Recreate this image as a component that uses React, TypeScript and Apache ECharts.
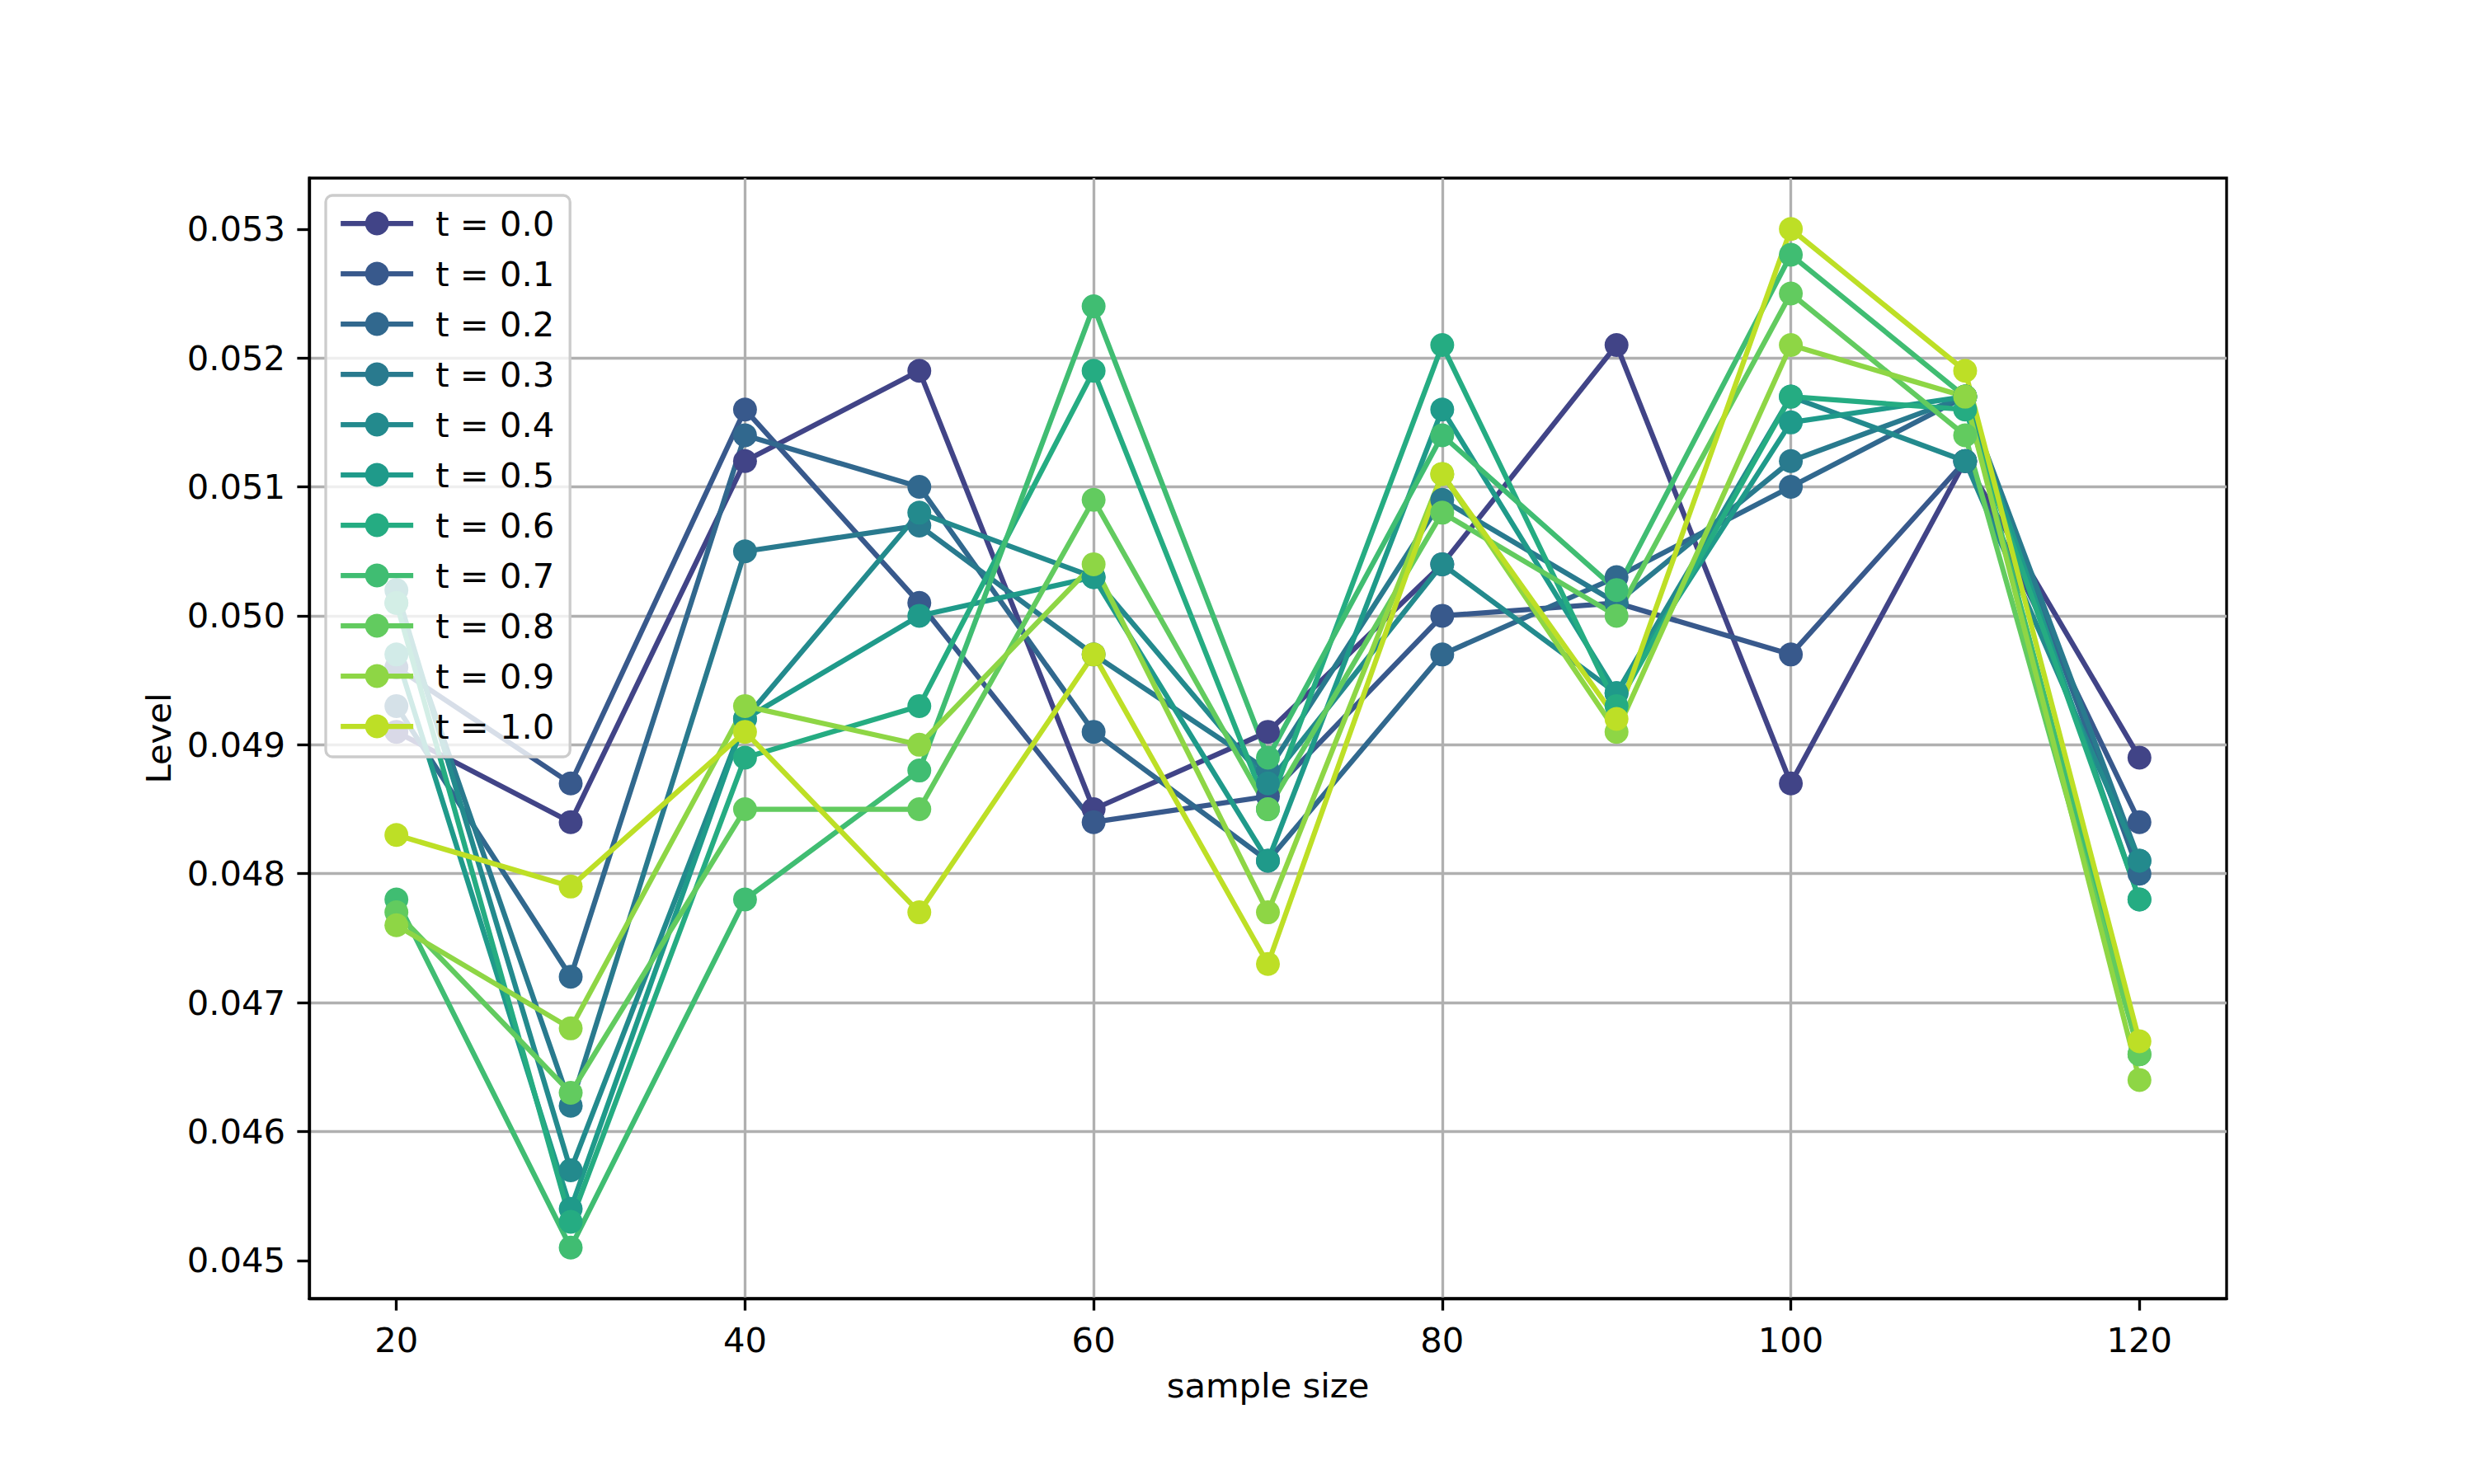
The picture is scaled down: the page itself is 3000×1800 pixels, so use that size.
import React, { useEffect, useRef } from "react";
import * as echarts from "echarts";

const sampleSizes = [20, 30, 40, 50, 60, 70, 80, 90, 100, 110, 120];
const seriesNames = ["t = 0.0", "t = 0.1", "t = 0.2", "t = 0.3", "t = 0.4", "t = 0.5", "t = 0.6", "t = 0.7", "t = 0.8", "t = 0.9", "t = 1.0"];
const seriesColors = ["#414487", "#38598c", "#31688e", "#297a8e", "#238a8d", "#1f9a8a", "#25ac82", "#40bd72", "#62cb5f", "#8ed645", "#bddf26"];

const t00 = [0.0491, 0.0484, 0.0512, 0.0519, 0.0485, 0.0491, 0.0504, 0.0521, 0.0487, 0.0512, 0.0489];
const t01 = [0.0496, 0.0487, 0.0516, 0.0501, 0.0484, 0.0486, 0.0500, 0.0501, 0.0497, 0.0512, 0.0484];
const t02 = [0.0493, 0.0472, 0.0514, 0.0510, 0.0491, 0.0481, 0.0497, 0.0503, 0.0510, 0.0517, 0.0480];
const t03 = [0.0501, 0.0462, 0.0505, 0.0507, 0.0497, 0.0488, 0.0509, 0.0501, 0.0512, 0.0517, 0.0481];
const t04 = [0.0502, 0.0457, 0.0492, 0.0508, 0.0503, 0.0487, 0.0504, 0.0494, 0.0517, 0.0512, 0.0481];
const t05 = [0.0497, 0.0454, 0.0492, 0.0500, 0.0503, 0.0481, 0.0516, 0.0494, 0.0515, 0.0517, 0.0478];
const t06 = [0.0501, 0.0453, 0.0489, 0.0493, 0.0519, 0.0485, 0.0521, 0.0493, 0.0517, 0.0516, 0.0478];
const t07 = [0.0478, 0.0451, 0.0478, 0.0488, 0.0524, 0.0489, 0.0514, 0.0502, 0.0528, 0.0517, 0.0466];
const t08 = [0.0477, 0.0463, 0.0485, 0.0485, 0.0509, 0.0485, 0.0508, 0.0500, 0.0525, 0.0514, 0.0466];
const t09 = [0.0476, 0.0468, 0.0493, 0.0490, 0.0504, 0.0477, 0.0511, 0.0491, 0.0521, 0.0517, 0.0464];
const t10 = [0.0483, 0.0479, 0.0491, 0.0477, 0.0497, 0.0473, 0.0511, 0.0492, 0.0530, 0.0519, 0.0467];

const seriesValues = [t00, t01, t02, t03, t04, t05, t06, t07, t08, t09, t10];

const xTicks = [20, 40, 60, 80, 100, 120];
const yTicks = [0.045, 0.046, 0.047, 0.048, 0.049, 0.05, 0.051, 0.052, 0.053];

const FONT = "DejaVu Sans";
const FS = 41.7;
const LW = 3.33;
const SERIES_LW = 6.25;

export default function App() {
  const ref = useRef<HTMLDivElement>(null);
  useEffect(() => {
    document.body.style.margin = "0";
    if (!ref.current) return;
    const chart = echarts.init(ref.current, null, { renderer: "svg" });
    const series = seriesNames.map((name, i) => ({
      type: "line",
      name,
      data: sampleSizes.map((x, j) => [x, seriesValues[i][j]]),
      symbol: "circle",
      symbolSize: 29,
      showSymbol: true,
      showAllSymbol: true,
      lineStyle: { width: SERIES_LW, color: seriesColors[i] },
      itemStyle: { color: seriesColors[i], borderWidth: 0 },
      emphasis: { disabled: true },
      silent: true,
      z: 2,
    }));
    chart.setOption({
      animation: false,
      backgroundColor: "#ffffff",
      textStyle: { fontFamily: FONT },
      grid: {
        left: 375,
        right: 300,
        top: 216,
        bottom: 225,
        containLabel: false,
        show: true,
        borderColor: "#000000",
        borderWidth: LW,
        backgroundColor: "transparent",
      },
      legend: {
        orient: "vertical",
        left: 395,
        top: 237,
        itemWidth: 88,
        itemHeight: 36,
        itemGap: 19,
        padding: [13, 19, 16, 15],
        backgroundColor: "rgba(255,255,255,0.8)",
        borderColor: "#cccccc",
        borderWidth: LW,
        borderRadius: 8,
        selectedMode: false,
        lineStyle: { width: SERIES_LW },
        textStyle: {
          fontSize: FS,
          fontFamily: FONT,
          color: "#000000",
          lineHeight: 36,
          padding: [0, 0, 0, 22],
        },
        data: seriesNames,
      },
      xAxis: {
        type: "value",
        min: 15,
        max: 125,
        minInterval: 20,
        maxInterval: 20,
        name: "sample size",
        nameLocation: "middle",
        nameGap: 84,
        nameTextStyle: { fontSize: FS, fontFamily: FONT, color: "#000000" },
        axisLine: { show: true, onZero: false, lineStyle: { color: "#000000", width: LW } },
        axisTick: {
          show: true,
          inside: false,
          length: 14.6,
          lineStyle: { color: "#000000", width: LW },
          customValues: xTicks,
        },
        axisLabel: {
          show: true,
          margin: 29,
          fontSize: FS,
          fontFamily: FONT,
          color: "#000000",
          customValues: xTicks,
        },
        splitLine: {
          show: true,
          showMinLine: false,
          showMaxLine: false,
          lineStyle: { color: "#b0b0b0", width: LW },
        },
      },
      yAxis: {
        type: "value",
        min: 0.044705,
        max: 0.053395,
        minInterval: 0.001,
        maxInterval: 0.001,
        splitNumber: 8,
        scale: true,
        name: "Level",
        nameLocation: "middle",
        nameGap: 162,
        nameRotate: 90,
        nameTextStyle: { fontSize: FS, fontFamily: FONT, color: "#000000" },
        axisLine: { show: true, onZero: false, lineStyle: { color: "#000000", width: LW } },
        axisTick: {
          show: true,
          inside: false,
          length: 14.6,
          lineStyle: { color: "#000000", width: LW },
          customValues: yTicks,
        },
        axisLabel: {
          show: true,
          margin: 29,
          fontSize: FS,
          fontFamily: FONT,
          color: "#000000",
          customValues: yTicks,
          formatter: (v: number) => v.toFixed(3),
        },
        splitLine: {
          show: true,
          showMinLine: false,
          showMaxLine: false,
          lineStyle: { color: "#b0b0b0", width: LW },
        },
      },
      series,
    });
    return () => chart.dispose();
  }, []);
  return <div ref={ref} style={{ width: 3000, height: 1800 }} />;
}
